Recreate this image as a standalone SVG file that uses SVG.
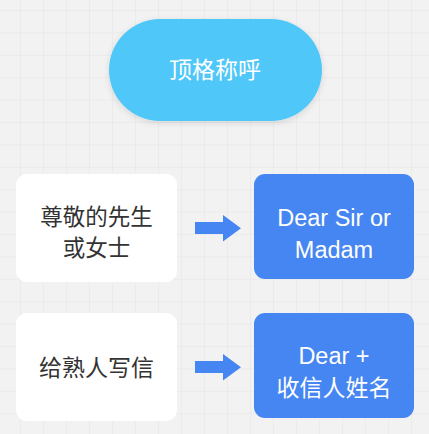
<svg xmlns="http://www.w3.org/2000/svg" width="429" height="434" viewBox="0 0 429 434">
<defs>
<pattern id="grid" x="20" y="10" width="23" height="22.4" patternUnits="userSpaceOnUse">
<path d="M0 0V22.4M0 0H23" fill="none" stroke="#E4E4E4" stroke-width="1"/>
</pattern>
<filter id="sh" x="-20%" y="-20%" width="140%" height="150%">
<feDropShadow dx="0" dy="2" stdDeviation="3" flood-color="#000" flood-opacity="0.12"/>
</filter>
</defs>
<style>
.cjk{font-family:"Noto Sans CJK SC","Liberation Sans",sans-serif;font-size:23px;text-anchor:middle}
.cjk2{font-family:"Noto Sans CJK SC","Liberation Sans",sans-serif;font-size:22.5px;text-anchor:middle}
.lat{font-family:"Liberation Sans","Noto Sans CJK SC",sans-serif;font-size:23.5px;text-anchor:middle}
.dark{fill:#333333}
.light{fill:#FFFFFF}
.white-box{fill:#FFFFFF}
.blue-box{fill:#4686F2}
.arr{fill:#4686F2}
</style>
<rect width="429" height="434" fill="#F2F2F2"/>
<rect width="429" height="434" fill="url(#grid)"/>

<g id="title">
<rect x="109" y="19" width="213" height="102" rx="51" fill="#4FC7F9" filter="url(#sh)"/>
<text class="cjk light" x="215" y="78">顶格称呼</text>
</g>

<g id="formal">
<rect class="white-box" x="16" y="174" width="161" height="108" rx="11"/>
<text class="cjk2 dark" x="96.5" y="224.5">尊敬的先生</text>
<text class="cjk2 dark" x="96.5" y="255.5">或女士</text>
</g>

<g id="formal-result">
<rect class="blue-box" x="254" y="174" width="160" height="105" rx="11"/>
<text class="lat light" x="334" y="225.5">Dear Sir or</text>
<text class="lat light" x="334" y="257.5">Madam</text>
</g>

<g id="friend">
<rect class="white-box" x="16" y="313" width="161" height="108" rx="11"/>
<text class="cjk dark" x="96.5" y="376">给熟人写信</text>
</g>

<g id="friend-result">
<rect class="blue-box" x="254" y="313" width="160" height="105" rx="11"/>
<text class="lat light" x="334" y="363.5">Dear +</text>
<text class="cjk light" x="334" y="396">收信人姓名</text>
</g>

<g id="connectors" class="arr">
<path d="M195 222H223V215L241 228.3L223 241.6V234H195Z"/>
<path d="M195 361H223V354L241 367.3L223 380.6V373H195Z"/>
</g>
</svg>
